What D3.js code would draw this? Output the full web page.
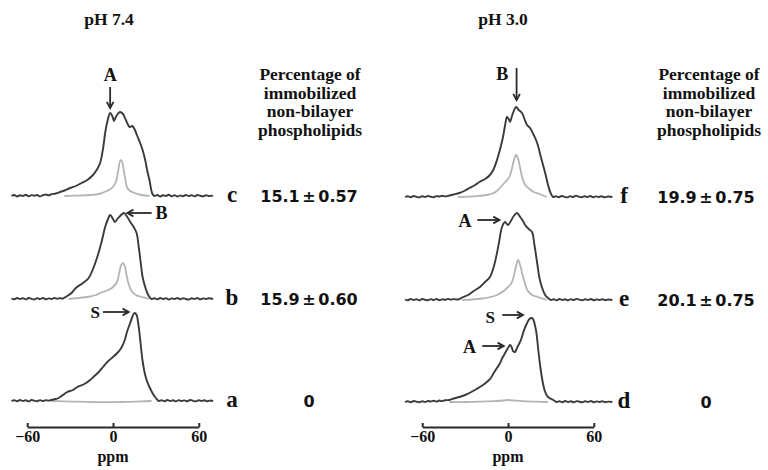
<!DOCTYPE html>
<html>
<head>
<meta charset="utf-8">
<script src="https://cdn.jsdelivr.net/npm/d3@7"></script>
<style>
  html, body { margin: 0; padding: 0; background: #fff; }
  svg { display: block; }
</style>
</head>
<body>
<svg id="chart" width="768" height="470"></svg>
<script>
// ---------- DATA (ppm, intensity) ----------
const panelTitles = ["pH 7.4", "pH 3.0"];
const headingLines = ["Percentage of", "immobilized", "non-bilayer", "phospholipids"];
const ppmTicks = [-60, 0, 60];
const rowLabelsLeft = ["c", "b", "a"];
const rowLabelsRight = ["f", "e", "d"];
const percentLeft = ["15.1 \u00b1 0.57", "15.9 \u00b1 0.60", "0"];
const percentRight = ["19.9 \u00b1 0.75", "20.1 \u00b1 0.75", "0"];

// pH 7.4, trace c
const cBlack = [[-71,0],[-69,1],[-67,-0.5],[-65,0.8],[-63,0],[-61,1.2],[-59,-0.3],[-57,0.9],[-55,0.2],[-53,1],[-51,-0.4],[-49,0.8],[-47,1.5],[-45,0.6],[-43,1.8],[-40,2.5],[-37,4],[-34,5.5],[-30,8],[-26,10],[-22,13],[-18,16],[-14,21],[-11,27],[-9,33],[-7,47],[-5.5,63],[-4,74],[-2,83],[-0.5,80],[0.7,75],[2,79],[4.8,84],[7,82],[9,76],[11.7,69],[13.5,70],[15,67],[17,60],[19,53],[20.7,46],[22.5,36],[24,25],[25.5,16],[26.5,8],[27.6,2],[29,0],[31,1],[33,-0.5],[35,0.8],[37,0],[39,1.2],[41,-0.3],[43,0.9],[45,-0.5],[47,0.6],[49,-0.2],[51,1],[53,0],[55,0.8],[57,-0.4],[59,1],[61,0.2],[63,-0.3],[65,0.7],[67,0],[70,0.4]];
const cGray = [[-34,0],[-28,0.3],[-22,0.5],[-16,1],[-10,2],[-6,4],[-3,6],[0,9],[2,14],[3.5,24],[4.5,33],[5.5,36],[6.5,34],[7.5,26],[9,14],[10,8],[12,5],[15,3],[20,1],[25.5,0]];
// pH 7.4, trace b
const bBlack = [[-71,0.5],[-69,-0.3],[-67,1],[-65,0],[-63,0.8],[-61,-0.4],[-59,1],[-57,0.2],[-55,-0.5],[-53,0.9],[-51,0],[-49,1],[-47,-0.3],[-45,0.6],[-43,0],[-41,1],[-39,0.3],[-37,0.8],[-35,0.5],[-32,3],[-29,6],[-26,11],[-21,16],[-17,21],[-14,30],[-11,42],[-8,57],[-5.5,72],[-3.5,80],[-2,84],[0,80],[1.4,77],[3,80],[5,83],[7.6,86],[10,82],[12.5,76],[14.5,72],[16.5,66],[18,52],[19.5,35],[20.7,22],[22.5,12],[24,6],[25.5,2],[27,0],[29,0.8],[31,-0.4],[33,1],[35,0],[37,0.9],[39,-0.5],[41,0.6],[43,0],[45,1],[47,-0.3],[49,0.8],[51,0],[53,-0.6],[55,0.7],[57,0],[59,1],[61,-0.4],[63,0.6],[65,0],[67,0.8],[70,0]];
const bGray = [[-31,0],[-24,1],[-18,2],[-12,4],[-9,6],[-5,8],[-2,10],[0,12],[2.8,17],[4.5,27],[5.8,34],[6.9,36],[8.2,33],[9.5,24],[10.9,15],[13,8],[16,4],[19,2.5],[23,1],[25.5,0]];
// pH 7.4, trace a
const aBlack = [[-71,0],[-69,0.8],[-67,-0.3],[-65,1],[-63,0],[-61,0.7],[-59,-0.4],[-57,1],[-55,0.3],[-53,-0.2],[-51,0.9],[-49,0],[-47,0.8],[-45,0.4],[-43,1],[-40,2],[-38,3],[-35,6],[-32,9],[-28,11],[-25,14],[-20,17],[-16,21],[-13,25],[-10,29],[-7,34],[-4,39],[0,44],[3,48],[4.8,51],[6.5,55],[8,60],[10,70],[12,78],[13.5,84],[15,88],[16.5,86],[17.5,79],[18.5,68],[19.5,55],[20.7,40],[22.5,26],[24,19],[25.5,14],[28,7],[30,3],[32,0],[34,0.8],[36,-0.3],[38,1],[40,0],[42,0.7],[44,-0.4],[46,0.9],[48,0],[50,0.6],[52,-0.3],[54,1],[56,0.2],[58,-0.4],[60,0.8],[62,0],[64,0.7],[66,-0.3],[68,0.5],[70,0]];
const aGray = [[-43,0],[-35,-0.3],[-25,-0.7],[-15,-1],[-5,-1.2],[5,-1],[12,-0.8],[20,-0.4],[27,0]];

// pH 3.0, trace f
const fBlack = [[-72,0],[-70,0.8],[-68,-0.3],[-66,1],[-64,0.2],[-62,-0.4],[-60,0.8],[-58,0],[-56,1],[-54,0.3],[-52,-0.2],[-50,0.9],[-48,0.5],[-46,1.2],[-44,0.6],[-41,1.5],[-38,2.5],[-34,4],[-30,6.5],[-27,9],[-23,12],[-20,15],[-16,18],[-12.6,22],[-10,28],[-7.7,37],[-5.5,48],[-3.5,60],[-2,72],[-0.7,80],[0.5,78],[1.4,75],[3,82],[5.6,90],[7.5,87],[9.8,84],[11.5,78],[13.3,72],[15.4,69],[18,62],[20.4,54],[23,40],[26,24],[28,12],[29.5,5],[31.6,0],[33.5,0.8],[35.5,-0.3],[37.5,1],[39.5,0.2],[41.5,-0.4],[43.5,0.9],[45.5,0],[47.5,1.2],[49.5,0.3],[51.5,-0.3],[53.5,0.8],[55.5,0],[57.5,1],[59.5,-0.2],[61.5,0.6],[63.5,0],[65.5,0.7],[67.5,-0.3],[70,0.5],[73,0]];
const fGray = [[-35,0],[-28,0.3],[-22,0.8],[-15,2],[-10,4],[-7,7],[-5,10],[-2,15],[0,18],[1.5,22],[3.5,33],[4.6,39],[5.6,42],[6.6,40],[7.5,36],[9.5,22],[11,15],[12,12],[15,8],[18,5],[22,3],[27,0]];
// pH 3.0, trace e
const eBlack = [[-72,0.5],[-70,-0.3],[-68,1],[-66,0],[-64,0.8],[-62,-0.4],[-60,1],[-58,0.2],[-56,-0.3],[-54,0.9],[-52,0],[-50,1],[-48,-0.2],[-46,0.7],[-44,0.2],[-42,1.1],[-40,0.4],[-38,0.9],[-35,0.5],[-32,2.5],[-28,5],[-24,9],[-19.6,13],[-16,18],[-12.6,23],[-10,33],[-7.7,47],[-6,60],[-4.2,73],[-2.1,78],[0,75],[2,79],[4,84],[6.3,87],[8.5,83],[10.5,79],[12,75],[14.5,71],[16.8,68],[18.5,55],[20.4,37],[22,22],[23.9,12],[26,5],[28,2],[30,0],[32,0.8],[34,-0.4],[36,1],[38,0],[40,0.7],[42,-0.3],[44,0.9],[46,0],[48,1.1],[50,0.3],[52,-0.3],[54,0.8],[56,0],[58,1],[60,-0.3],[62,0.6],[64,0],[66,0.8],[68,-0.2],[70,0.5],[73,0]];
const eGray = [[-32,0],[-25,0.5],[-18,1.5],[-12,3],[-7.7,5],[-3,9],[0,13],[2,16],[3.5,21],[5.5,33],[7,40],[8.5,35],[10,26],[11.2,20],[13.5,10],[16.8,5],[21,3],[27,0]];
// pH 3.0, trace d
const dBlack = [[-72,0],[-70,0.8],[-68,-0.3],[-66,1],[-64,0.3],[-62,-0.3],[-60,0.8],[-58,0],[-56,1],[-54,0.5],[-52,1.2],[-50,0.4],[-48,1.5],[-46,0.9],[-44,1.8],[-41,2],[-38,3.5],[-34,5],[-30,7],[-27,9],[-22,13],[-17.5,17],[-14,21],[-12,24],[-10,29],[-7.7,34],[-5.5,39],[-4,44],[-2,49],[0,54],[1.4,57],[2.5,55],[3.5,51],[4.9,50],[6,53],[7,56],[9,62],[11,71],[13,78],[15,83],[16.8,84],[17.8,82],[18.8,77],[19.8,70],[20.6,60],[21.5,48],[22.5,36],[24,22],[25,15],[26,10],[28,5],[31.6,2],[34,0],[36,0.8],[38,-0.3],[40,1],[42,0],[44,0.7],[46,-0.4],[48,0.9],[50,0.2],[52,-0.3],[54,0.8],[56,0],[58,1],[60,-0.2],[62,0.6],[64,0],[66,0.8],[68,-0.3],[70,0.4],[73,0]];
const dGray = [[-41,0],[-30,0],[-20,0.3],[-10,0.8],[-3,1.5],[0,2],[4,1.5],[10,0.8],[20,0.3],[28,0]];

// ---------- LAYOUT ----------
const svg = d3.select("#chart");
const pxPerPpm = 1.43;
const panels = [
  { zero: 113, title: panelTitles[0], titleX: 109, headX: 310, numX: 309, labelX: 232,
    rows: [
      { base: 196, black: cBlack, gray: cGray, label: rowLabelsLeft[0], pct: percentLeft[0] },
      { base: 299, black: bBlack, gray: bGray, label: rowLabelsLeft[1], pct: percentLeft[1] },
      { base: 401, black: aBlack, gray: aGray, label: rowLabelsLeft[2], pct: percentLeft[2] }
    ] },
  { zero: 508, title: panelTitles[1], titleX: 503, headX: 709, numX: 706, labelX: 624,
    rows: [
      { base: 197, black: fBlack, gray: fGray, label: rowLabelsRight[0], pct: percentRight[0] },
      { base: 300, black: eBlack, gray: eGray, label: rowLabelsRight[1], pct: percentRight[1] },
      { base: 402, black: dBlack, gray: dGray, label: rowLabelsRight[2], pct: percentRight[2] }
    ] }
];
const serif = "'Liberation Serif', 'Times New Roman', serif";
const sans = "'DejaVu Sans', 'Open Sans', sans-serif";
const ink = "#2a2a2a";

function arrow(g, x1, y1, x2, y2) {
  g.append("line").attr("x1", x1).attr("y1", y1).attr("x2", x2).attr("y2", y2)
    .attr("stroke", ink).attr("stroke-width", 1.8);
  const ang = Math.atan2(y2 - y1, x2 - x1);
  const L = 7, W = 0.5;
  const p = d3.path();
  p.moveTo(x2 - L * Math.cos(ang - W), y2 - L * Math.sin(ang - W));
  p.lineTo(x2, y2);
  p.lineTo(x2 - L * Math.cos(ang + W), y2 - L * Math.sin(ang + W));
  g.append("path").attr("d", p.toString()).attr("fill", "none")
    .attr("stroke", ink).attr("stroke-width", 1.8).attr("stroke-linejoin", "miter");
}

panels.forEach((P, pi) => {
  const x = d3.scaleLinear().domain([-72, 72])
    .range([P.zero - 72 * pxPerPpm, P.zero + 72 * pxPerPpm]);
  const g = svg.append("g");

  g.append("text").attr("x", P.titleX).attr("y", 25).attr("text-anchor", "middle")
    .attr("font-family", serif).attr("font-weight", "bold").attr("font-size", 17.5)
    .attr("fill", "#111").text(P.title);

  headingLines.forEach((t, i) => {
    g.append("text").attr("x", P.headX).attr("y", 80 + i * 18.7).attr("text-anchor", "middle")
      .attr("font-family", serif).attr("font-weight", "bold").attr("font-size", 17.5)
      .attr("fill", "#111").text(t);
  });

  P.rows.forEach(R => {
    const y = d3.scaleLinear().domain([0, 100]).range([R.base, R.base - 100]);
    const line = d3.line().x(d => x(d[0])).y(d => y(d[1])).curve(d3.curveCatmullRom.alpha(0.5));
    g.append("path").datum(R.gray).attr("d", line).attr("fill", "none")
      .attr("stroke", "#b4b4b4").attr("stroke-width", 1.8).attr("stroke-linejoin", "round");
    g.append("path").datum(R.black).attr("d", line).attr("fill", "none")
      .attr("stroke", "#3a3a3a").attr("stroke-width", 1.9).attr("stroke-linejoin", "round");
    g.append("text").attr("x", P.labelX).attr("y", R.base + 6).attr("text-anchor", "middle")
      .attr("font-family", serif).attr("font-weight", "bold").attr("font-size", 23)
      .attr("fill", "#111").text(R.label);
    g.append("text").attr("x", P.numX).attr("y", R.base + 6).attr("text-anchor", "middle")
      .attr("font-family", sans).attr("font-weight", "bold").attr("font-size", 16)
      .attr("word-spacing", -3).attr("fill", "#111").text(R.pct);
  });

  // ppm scale bar
  const xa = x.copy().domain([-60, 60]).range([x(-60), x(60)]);
  const axisY = 427;
  const ax = g.append("g").attr("transform", `translate(0,${axisY})`)
    .call(d3.axisBottom(xa).tickValues(ppmTicks).tickSizeInner(-4).tickSizeOuter(0).tickPadding(4)
      .tickFormat(d3.format("d")));
  ax.select(".domain").attr("stroke", ink).attr("stroke-width", 2.2);
  ax.selectAll(".tick line").attr("stroke", ink).attr("stroke-width", 2);
  ax.selectAll(".tick text").attr("font-family", serif).attr("font-weight", "bold")
    .attr("font-size", 16).attr("fill", "#111");
  g.append("text").attr("x", x(0)).attr("y", 462).attr("text-anchor", "middle")
    .attr("font-family", serif).attr("font-weight", "bold").attr("font-size", 16)
    .attr("fill", "#111").text("ppm");

  const yRow = i => d3.scaleLinear().domain([0, 100]).range([P.rows[i].base, P.rows[i].base - 100]);
  const lab = (t, xx, yy, fs) => g.append("text").attr("x", xx).attr("y", yy)
    .attr("text-anchor", "middle").attr("font-family", serif).attr("font-weight", "bold")
    .attr("font-size", fs).attr("fill", "#111").text(t);

  if (pi === 0) {
    lab("A", x(-2), 81, 18);
    arrow(g, x(-2), 87, x(-2), 108);
    arrow(g, x(27), yRow(1)(86), x(10), yRow(1)(86));
    lab("B", x(34), yRow(1)(80), 18);
    lab("S", x(-12.5), yRow(2)(83), 17);
    arrow(g, x(-7), yRow(2)(89), x(11), yRow(2)(89));
  } else {
    lab("B", x(-4), 80, 18);
    arrow(g, x(6), 68, x(6), 100);
    lab("A", x(-30), yRow(1)(73), 18);
    arrow(g, x(-21.5), yRow(1)(80), x(-6), yRow(1)(80));
    lab("S", x(-12.5), yRow(2)(79), 17);
    arrow(g, x(-4), yRow(2)(87), x(10.5), yRow(2)(87));
    lab("A", x(-27), yRow(2)(49), 18);
    arrow(g, x(-18), yRow(2)(56), x(-3), yRow(2)(56));
  }
});
</script>
</body>
</html>
